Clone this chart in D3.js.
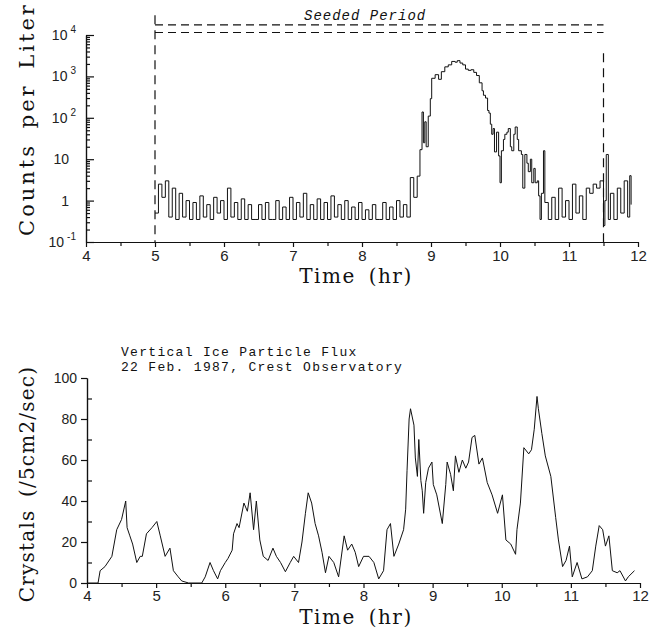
<!DOCTYPE html>
<meta charset="utf-8">
<style type="text/css">
body {
  margin: 0;
  background: #fff;
}

.axis path,
.axis line {
  fill: none;
  stroke: #111;
  stroke-width: 1.2px;
}

.axis text {
  font-family: "Liberation Sans", sans-serif;
  font-size: 15px;
  fill: #222;
}

.ylab {
  font-family: "Liberation Sans", sans-serif;
  font-size: 14px;
  fill: #222;
}

.title {
  font-family: "DejaVu Serif", serif;
  font-size: 20px;
  fill: #111;
  letter-spacing: 1.5px;
  word-spacing: 5px;
}

.note {
  font-family: "Liberation Mono", monospace;
  font-size: 13px;
  fill: #111;
  letter-spacing: 1.3px;
}

.trace {
  fill: none;
  stroke: #111;
  stroke-width: 1px;
}

.seed {
  fill: none;
  stroke: #111;
  stroke-width: 1.2px;
  stroke-dasharray: 8,5;
}
</style>
<body>
</body>
<script src="https://d3js.org/d3.v7.min.js"></script>
<script>
// top panel: counts per liter (time in hr, counts)
var countTime = [
  5.00, 5.05, 5.10, 5.15, 5.20, 5.25, 5.30, 5.35, 5.40, 5.45, 5.50, 5.55, 5.60, 5.65, 5.70, 5.75, 5.80, 5.85, 5.90, 5.95,
  6.00, 6.05, 6.10, 6.15, 6.20, 6.25, 6.30, 6.35, 6.40, 6.45, 6.50, 6.55, 6.60, 6.65, 6.70, 6.75, 6.80, 6.85, 6.90, 6.95,
  7.00, 7.05, 7.10, 7.15, 7.20, 7.25, 7.30, 7.35, 7.40, 7.45, 7.50, 7.55, 7.60, 7.65, 7.70, 7.75, 7.80, 7.85, 7.90, 7.95,
  8.00, 8.05, 8.10, 8.15, 8.20, 8.25, 8.30, 8.35, 8.40, 8.45, 8.50, 8.55, 8.60, 8.65, 8.70, 8.75, 8.80,
  8.84, 8.87, 8.89, 8.91, 8.93, 8.96, 8.99, 9.01, 9.06, 9.11, 9.15, 9.20, 9.25, 9.30, 9.35, 9.38, 9.42, 9.46, 9.50, 9.54,
  9.58, 9.62, 9.66, 9.70, 9.74, 9.76, 9.79, 9.82, 9.84, 9.86, 9.88, 9.90, 9.92, 9.95, 9.98,
  10.00, 10.02, 10.05, 10.07, 10.10, 10.12, 10.15, 10.17, 10.20, 10.22, 10.25, 10.27, 10.31, 10.33, 10.36, 10.39, 10.41,
  10.44, 10.46, 10.49, 10.51, 10.54, 10.56, 10.58, 10.60, 10.63, 10.65,
  10.70, 10.75, 10.80, 10.85, 10.90, 10.95, 11.00, 11.05, 11.10, 11.15, 11.20, 11.25, 11.30, 11.35, 11.40, 11.45,
  11.50, 11.52, 11.54, 11.57, 11.60, 11.65, 11.70, 11.75, 11.80, 11.85, 11.88, 11.90
];
var countValue = [
  0.5, 2.5, 1.2, 3, 0.4, 2, 0.35, 1.5, 0.4, 1, 0.35, 0.9, 0.35, 1.3, 0.4, 0.8, 0.35, 1.2, 0.5, 1,
  0.35, 2, 0.4, 0.9, 0.35, 1.1, 0.35, 0.8, 0.35, 0.35, 0.8, 0.35, 0.9, 0.35, 0.35, 1, 0.35, 0.7, 0.35, 1.2,
  0.35, 0.9, 0.4, 1.5, 0.35, 0.8, 0.35, 1.1, 0.35, 0.9, 0.35, 1.3, 0.4, 0.8, 0.35, 1, 0.35, 0.7, 0.35, 0.9,
  0.35, 0.6, 0.35, 0.8, 0.35, 0.35, 0.9, 0.35, 0.7, 0.35, 1.0, 0.4, 0.8, 0.4, 3.6, 1.2, 3.9,
  17, 138, 25, 80, 20, 110, 290, 900, 1100, 850, 1300, 1700, 1900, 2300, 2200, 2400, 2100, 1900, 1500, 1400,
  1450, 1250, 1050, 700, 450, 350, 300, 150, 130, 70, 40, 55, 15, 45, 12,
  2.7, 16, 30, 40, 45, 55, 20, 16, 40, 60, 30, 16, 13, 2, 13, 8, 5,
  10, 2.7, 6, 2.7, 3, 1.3, 0.35, 1.5, 16, 0.9,
  0.35, 1.2, 0.35, 2, 0.4, 1, 0.35, 2.5, 0.5, 1.3, 0.35, 2, 1.5, 2.5, 2, 3,
  0.25, 1, 13, 0.35, 1.5, 0.35, 2, 0.5, 3, 0.4, 4, 0.8
];

// seeded period markers
var seededSpan = [5, 11.5];
var seededLevels = [17500, 11500];
var seededMarkTops = [30000, 3600];

// bottom panel: vertical ice particle flux
var fluxTime = [
  4.00, 4.16, 4.19, 4.26, 4.36, 4.43, 4.50, 4.56, 4.58, 4.62, 4.66, 4.72, 4.77, 4.80, 4.86, 4.94, 5.01, 5.06, 5.13, 5.20,
  5.25, 5.32, 5.37, 5.47, 5.66, 5.71, 5.78, 5.83, 5.89, 5.93, 6.00, 6.04, 6.10, 6.12, 6.17, 6.20, 6.27, 6.32, 6.36, 6.41,
  6.45, 6.50, 6.55, 6.62, 6.69, 6.74, 6.80, 6.87, 6.94, 6.99, 7.06, 7.11, 7.16, 7.20, 7.25, 7.30, 7.35, 7.40, 7.45, 7.50,
  7.57, 7.64, 7.72, 7.77, 7.83, 7.88, 7.93, 8.00, 8.08, 8.15, 8.22, 8.29, 8.34, 8.39, 8.44, 8.51, 8.58, 8.61, 8.63, 8.66,
  8.68, 8.73, 8.75, 8.78, 8.80, 8.83, 8.85, 8.87, 8.90, 8.94, 8.99, 9.01, 9.06, 9.14, 9.19, 9.21, 9.26, 9.30, 9.33, 9.38,
  9.43, 9.48, 9.52, 9.57, 9.61, 9.67, 9.72, 9.79, 9.86, 9.94, 10.01, 10.06, 10.13, 10.20, 10.22, 10.27, 10.32, 10.39, 10.43, 10.47,
  10.51, 10.53, 10.58, 10.63, 10.71, 10.78, 10.82, 10.88, 10.93, 10.98, 11.02, 11.09, 11.16, 11.24, 11.31, 11.36, 11.41, 11.46, 11.50, 11.55,
  11.60, 11.67, 11.71, 11.79, 11.83, 11.92
];
var fluxValue = [
  0, 0, 6, 8, 13, 26, 31, 40, 27, 23, 19, 10, 13, 13, 24, 27, 30, 23, 13, 17,
  6, 3, 1, 0, 0, 3, 10, 6, 2, 6, 10, 12, 16, 24, 29, 27, 39, 35, 44, 26,
  40, 21, 13, 11, 17, 13, 10, 5.5, 10, 13, 10, 20, 34, 44, 39, 29, 23, 15, 5, 13,
  10, 3, 23, 16, 19, 15, 8, 13, 13, 10, 2, 6, 26, 29, 13, 19, 26, 36, 55, 80,
  85, 77, 61, 52, 70, 50, 45, 34, 49, 56, 59, 48, 43, 29, 48, 59, 53, 45, 62, 54,
  60, 56, 59, 71, 72, 58, 61, 49, 43, 34, 43, 21, 19, 14, 26, 39, 66, 63, 65, 75,
  91, 85, 73, 62, 52, 32, 21, 8, 11, 18, 3, 10, 2, 3, 6, 18, 28, 26, 18, 23,
  6, 5, 6, 1, 3, 6
];

var hourTicks = [4, 5, 6, 7, 8, 9, 10, 11, 12];
var halfHourTicks = [4.5, 5.5, 6.5, 7.5, 8.5, 9.5, 10.5, 11.5];
var decadeTicks = [0.1, 1, 10, 100, 1000, 10000];
var decadeLabels = [["10", "-1"], ["1", ""], ["10", ""], ["10", "2"], ["10", "3"], ["10", "4"]];
var fluxMajor = [0, 20, 40, 60, 80, 100];
var fluxMinor = [10, 30, 50, 70, 90];

var countData = countTime.map(function(t, i) { return [t, countValue[i]]; });
var fluxData = fluxTime.map(function(t, i) { return [t, fluxValue[i]]; });

var svg = d3.select("body")
  .append("svg")
    .attr("width", 652)
    .attr("height", 630)
    .style("background", "#fff");

/* Top panel */

var xTop = d3.scaleLinear()
  .domain([4, 12])
  .range([86, 638]);

var yTop = d3.scaleLog()
  .domain([0.1, 10000])
  .range([242, 35]);

var minorLog = [];
decadeTicks.slice(0, -1).forEach(function(d) {
  for (var k = 2; k <= 9; k++) minorLog.push(d * k);
});

svg.append("g")
  .attr("class", "x axis")
  .attr("transform", "translate(0," + yTop(0.1) + ")")
  .call(d3.axisBottom(xTop).tickValues(hourTicks).tickSize(5).tickSizeOuter(0).tickPadding(3));

svg.append("g")
  .attr("class", "x axis")
  .attr("transform", "translate(0," + yTop(0.1) + ")")
  .call(d3.axisBottom(xTop).tickValues(halfHourTicks).tickSize(4).tickSizeOuter(0).tickFormat(""));

svg.append("g")
  .attr("class", "y axis")
  .attr("transform", "translate(" + xTop(4) + ",0)")
  .call(d3.axisRight(yTop).tickValues(decadeTicks).tickSize(8).tickSizeOuter(0).tickFormat(""));

svg.append("g")
  .attr("class", "y axis")
  .attr("transform", "translate(" + xTop(4) + ",0)")
  .call(d3.axisRight(yTop).tickValues(minorLog).tickSize(4).tickSizeOuter(0).tickFormat(""));

var decLab = svg.selectAll("text.declab")
  .data(decadeTicks)
  .enter().append("text")
    .attr("class", "ylab declab")
    .attr("text-anchor", "end")
    .attr("x", function(d, i) { return decadeLabels[i][1] ? 76 : 69; })
    .attr("y", function(d) { return yTop(d) + 5; });

decLab.append("tspan")
  .text(function(d, i) { return decadeLabels[i][0]; });

decLab.append("tspan")
  .attr("dy", -7)
  .attr("dx", 3)
  .style("font-size", "10px")
  .text(function(d, i) { return decadeLabels[i][1]; });

// seeded period markers
seededLevels.forEach(function(v) {
  svg.append("line")
    .attr("class", "seed")
    .attr("x1", xTop(seededSpan[0]))
    .attr("x2", xTop(seededSpan[1]))
    .attr("y1", yTop(v))
    .attr("y2", yTop(v));
});

seededSpan.forEach(function(t, i) {
  svg.append("line")
    .attr("class", "seed")
    .style("stroke-dasharray", "9,6")
    .attr("x1", xTop(t))
    .attr("x2", xTop(t))
    .attr("y1", yTop(seededMarkTops[i]))
    .attr("y2", yTop(0.1));
});

svg.append("text")
  .attr("class", "note")
  .attr("x", 304)
  .attr("y", 20)
  .style("font-style", "italic")
  .style("font-size", "14px")
  .style("letter-spacing", "1px")
  .text("Seeded Period");

svg.append("path")
  .datum(countData)
  .attr("class", "trace")
  .attr("d", d3.line()
    .x(function(d) { return xTop(d[0]); })
    .y(function(d) { return yTop(d[1]); })
    .curve(d3.curveStepAfter));

svg.append("text")
  .attr("class", "title")
  .attr("transform", "translate(34,119) rotate(-90)")
  .attr("text-anchor", "middle")
  .style("letter-spacing", "3px")
  .style("font-size", "21px")
  .text("Counts per Liter");

svg.append("text")
  .attr("class", "title")
  .attr("x", 356)
  .attr("y", 283)
  .attr("text-anchor", "middle")
  .text("Time (hr)");

/* Bottom panel */

var xBot = d3.scaleLinear()
  .domain([4, 12])
  .range([87, 640]);

var yBot = d3.scaleLinear()
  .domain([0, 100])
  .range([583, 378]);

svg.append("g")
  .attr("class", "x axis")
  .attr("transform", "translate(0," + yBot(0) + ")")
  .call(d3.axisBottom(xBot).tickValues(hourTicks).tickSize(5).tickSizeOuter(0).tickPadding(2));

svg.append("g")
  .attr("class", "x axis")
  .attr("transform", "translate(0," + yBot(0) + ")")
  .call(d3.axisBottom(xBot).tickValues(halfHourTicks).tickSize(4).tickSizeOuter(0).tickFormat(""));

var yAxisBot = svg.append("g")
  .attr("class", "y axis")
  .attr("transform", "translate(" + xBot(4) + ",0)")
  .call(d3.axisLeft(yBot).tickValues(fluxMajor).tickSize(6).tickSizeOuter(0).tickPadding(4));

yAxisBot.selectAll("text")
  .style("font-size", "14px");

svg.append("g")
  .attr("class", "y axis")
  .attr("transform", "translate(" + xBot(4) + ",0)")
  .call(d3.axisRight(yBot).tickValues(fluxMinor).tickSize(5).tickSizeOuter(0).tickFormat(""));

svg.append("path")
  .datum(fluxData)
  .attr("class", "trace")
  .attr("d", d3.line()
    .x(function(d) { return xBot(d[0]); })
    .y(function(d) { return yBot(d[1]); }));

svg.append("text")
  .attr("class", "note")
  .attr("x", 121)
  .attr("y", 356)
  .text("Vertical Ice Particle Flux");

svg.append("text")
  .attr("class", "note")
  .attr("x", 121)
  .attr("y", 371)
  .text("22 Feb. 1987, Crest Observatory");

svg.append("text")
  .attr("class", "title")
  .attr("transform", "translate(34,484) rotate(-90)")
  .attr("text-anchor", "middle")
  .style("letter-spacing", "1.2px")
  .text("Crystals (/5cm2/sec)");

svg.append("text")
  .attr("class", "title")
  .attr("x", 356)
  .attr("y", 624)
  .attr("text-anchor", "middle")
  .text("Time (hr)");
</script>
